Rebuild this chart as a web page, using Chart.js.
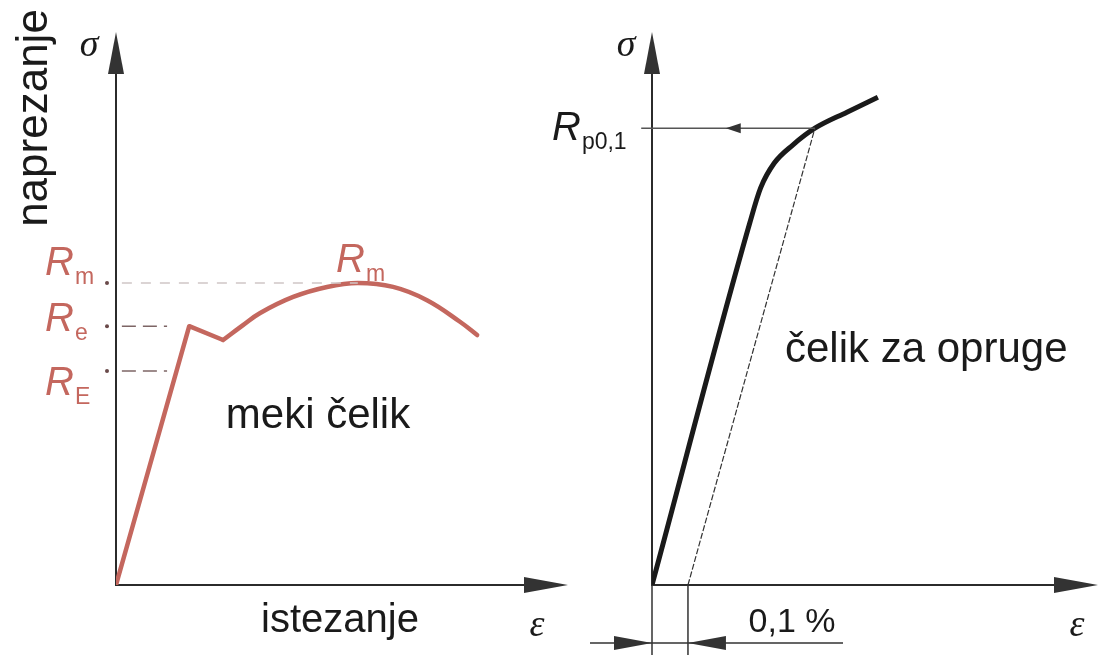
<!DOCTYPE html>
<html>
<head>
<meta charset="utf-8">
<script src="https://cdn.jsdelivr.net/npm/chart.js@4.4.0/dist/chart.umd.min.js"></script>
<style>
  html, body { margin: 0; padding: 0; background: #fff; }
  #wrap { position: relative; width: 1098px; height: 655px; overflow: hidden; }
  #lijevi { position: absolute; left: 0; top: 0; }
  #desni { position: absolute; left: 540px; top: 0; }
</style>
</head>
<body>
<div id="wrap">
  <canvas id="lijevi" width="580" height="655"></canvas>
  <canvas id="desni" width="558" height="655"></canvas>
</div>
<script>
// meki čelik - istezanje (relativno) i naprezanje (relativno)
const mekiStrain = [0, 16.2, 23.7, 28.1, 31.9, 39.2, 46.7, 53.5, 61.3, 68.8, 76.1, 79.9];
const mekiStress = [0, 46.8, 44.3, 47.0, 49.2, 52.1, 53.9, 54.6, 53.9, 51.5, 47.6, 45.2];
// granice: R_m, R_e, R_E
const granicaOznake = ['m', 'e', 'E'];
const granicaVrijednosti = [54.6, 46.8, 38.7];

// čelik za opruge - istezanje u %
const opružniStrain = [0, 0.272, 0.302, 0.340, 0.392, 0.453, 0.542, 0.628];
const opružniStress = [0, 65.5, 71.8, 76.3, 79.6, 82.6, 85.5, 88.2];
const rp01 = 82.6;
const rpStrain = 0.453;
const pomak = 0.1;

const crvena = '#c4675e';
const sans = '"Liberation Sans", Arial, sans-serif';
const serif = '"Liberation Serif", "Times New Roman", serif';

const tocke = (xs, ys) => xs.map((x, i) => ({ x: x, y: ys[i] }));

function strelica(ctx, x, y, smjer, duz, pola) {
    ctx.beginPath();
    ctx.moveTo(x, y);
    if (smjer === 'gore') { ctx.lineTo(x - pola, y + duz); ctx.lineTo(x + pola, y + duz); }
    else if (smjer === 'desno') { ctx.lineTo(x - duz, y - pola); ctx.lineTo(x - duz, y + pola); }
    else { ctx.lineTo(x + duz, y - pola); ctx.lineTo(x + duz, y + pola); }
    ctx.closePath();
    ctx.fill();
}

function oznakaR(ctx, x, y, sub, boja) {
    ctx.fillStyle = boja;
    ctx.textAlign = 'left';
    ctx.textBaseline = 'alphabetic';
    ctx.font = 'italic 40px ' + sans;
    ctx.fillText('R', x, y);
    const w = ctx.measureText('R').width;
    ctx.font = '23px ' + sans;
    ctx.fillText(sub, x + w + 1, y + 9);
}

// Osi sa strelicama
const osiPlugin = {
    id: 'osi',
    beforeDatasetsDraw(chart) {
        const { ctx, chartArea: a, scales: { x, y } } = chart;
        const x0 = x.getPixelForValue(0), y0 = y.getPixelForValue(0);
        ctx.save();
        ctx.strokeStyle = '#2b2b2b';
        ctx.fillStyle = '#333';
        ctx.lineWidth = 2;
        ctx.beginPath(); ctx.moveTo(x0, y0 + 1); ctx.lineTo(x0, a.top + 10); ctx.stroke();
        ctx.beginPath(); ctx.moveTo(x0 - 1, y0); ctx.lineTo(a.right - 10, y0); ctx.stroke();
        strelica(ctx, x0, a.top, 'gore', 42, 8);
        strelica(ctx, a.right, y0, 'desno', 44, 8);
        ctx.restore();
    }
};

const lijeviTekst = {
    id: 'lijeviTekst',
    afterDraw(chart) {
        const { ctx, scales: { x, y } } = chart;
        const x0 = x.getPixelForValue(0);
        ctx.save();
        const pomaci = [-8, 5, 24];
        granicaVrijednosti.forEach((v, i) => {
            const py = y.getPixelForValue(v);
            ctx.fillStyle = '#6a4a4a';
            ctx.beginPath(); ctx.arc(x0 - 9, py, 2, 0, Math.PI * 2); ctx.fill();
            oznakaR(ctx, 45, py + pomaci[i], granicaOznake[i], crvena);
        });
        oznakaR(ctx, 336, y.getPixelForValue(granicaVrijednosti[0]) - 11, 'm', crvena);

        ctx.fillStyle = '#1a1a1a';
        ctx.textAlign = 'center';
        ctx.font = '42px ' + sans;
        ctx.fillText('meki čelik', 318, 428);
        ctx.font = '40px ' + sans;
        ctx.fillText('istezanje', 340, 632);
        ctx.font = 'italic 38px ' + serif;
        ctx.fillText('σ', 89, 56);
        ctx.fillText('ε', 537, 636);

        ctx.translate(47, 118);
        ctx.rotate(-Math.PI / 2);
        ctx.font = '44px ' + sans;
        ctx.fillText('naprezanje', 0, 0);
        ctx.restore();
    }
};

const desniTekst = {
    id: 'desniTekst',
    afterDraw(chart) {
        const { ctx, scales: { x, y } } = chart;
        const x0 = x.getPixelForValue(0), y0 = y.getPixelForValue(0);
        const x1 = x.getPixelForValue(pomak);
        ctx.save();
        ctx.fillStyle = '#333';
        // strelica na liniji Rp0,1
        strelica(ctx, x.getPixelForValue(0.205), y.getPixelForValue(rp01), 'lijevo', 15, 5);

        // kotiranje 0,1 %
        ctx.strokeStyle = '#333';
        ctx.lineWidth = 1.5;
        ctx.beginPath();
        ctx.moveTo(x0, y0); ctx.lineTo(x0, 655);
        ctx.moveTo(x1, y0); ctx.lineTo(x1, 655);
        ctx.moveTo(x0 - 62, 643); ctx.lineTo(x0 + 191, 643);
        ctx.stroke();
        strelica(ctx, x0, 643, 'desno', 38, 7);
        strelica(ctx, x1, 643, 'lijevo', 38, 7);

        // tekst u koordinatama cijele slike
        ctx.translate(-540, 0);
        oznakaR(ctx, 552, y.getPixelForValue(rp01) + 12, 'p0,1', '#1a1a1a');

        ctx.fillStyle = '#1a1a1a';
        ctx.textAlign = 'left';
        ctx.font = '42px ' + sans;
        ctx.fillText('čelik za opruge', 785, 362);
        ctx.textAlign = 'center';
        ctx.font = '34px ' + sans;
        ctx.fillText('0,1 %', 792, 632);
        ctx.font = 'italic 38px ' + serif;
        ctx.fillText('σ', 626, 56);
        ctx.fillText('ε', 1077, 636);
        ctx.restore();
    }
};

const zajednicko = (xMax, padLeft, padRight) => ({
    responsive: false,
    animation: false,
    devicePixelRatio: 1,
    events: [],
    layout: { padding: { left: padLeft, right: padRight, top: 32, bottom: 70 } },
    plugins: { legend: { display: false }, tooltip: { enabled: false } },
    elements: { point: { radius: 0 } },
    scales: {
        x: { type: 'linear', min: 0, max: xMax, display: false },
        y: { type: 'linear', min: 0, max: 100, display: false }
    }
});

const vrh = mekiStress.indexOf(Math.max(...mekiStress));

new Chart(document.getElementById('lijevi').getContext('2d'), {
    type: 'line',
    data: {
        datasets: [
            {
                data: [{ x: 1.3, y: granicaVrijednosti[0] }, { x: mekiStrain[vrh], y: granicaVrijednosti[0] }],
                borderColor: '#cfc6c6', borderWidth: 1.5, borderDash: [10, 9]
            },
            {
                data: [{ x: 1.3, y: granicaVrijednosti[1] }, { x: 11.3, y: granicaVrijednosti[1] }],
                borderColor: '#7d6565', borderWidth: 1.6, borderDash: [14, 7]
            },
            {
                data: [{ x: 1.3, y: granicaVrijednosti[2] }, { x: 11.3, y: granicaVrijednosti[2] }],
                borderColor: '#7d6565', borderWidth: 1.6, borderDash: [14, 7]
            },
            {
                data: tocke(mekiStrain.slice(0, 3), mekiStress.slice(0, 3)),
                borderColor: crvena, borderWidth: 4.5, tension: 0, borderJoinStyle: 'round'
            },
            {
                data: tocke(mekiStrain.slice(2), mekiStress.slice(2)),
                borderColor: crvena, borderWidth: 4.5, tension: 0.4, borderCapStyle: 'round'
            },
            {
                data: [{ x: mekiStrain[vrh], y: mekiStress[vrh] }],
                showLine: false, pointRadius: 2.5, pointBackgroundColor: '#fff', pointBorderWidth: 0
            }
        ]
    },
    options: zajednicko(100, 116, 12),
    plugins: [osiPlugin, lijeviTekst]
});

new Chart(document.getElementById('desni').getContext('2d'), {
    type: 'line',
    data: {
        datasets: [
            {
                data: [{ x: -0.03, y: rp01 }, { x: rpStrain, y: rp01 }],
                borderColor: '#555', borderWidth: 1.5, clip: false
            },
            {
                data: [{ x: pomak, y: 0 }, { x: rpStrain, y: rp01 }],
                borderColor: '#333', borderWidth: 1.2, borderDash: [6, 2]
            },
            {
                data: tocke(opružniStrain, opružniStress),
                borderColor: '#1a1a1a', borderWidth: 5, cubicInterpolationMode: 'monotone'
            }
        ]
    },
    options: zajednicko(1.24, 112, 0),
    plugins: [osiPlugin, desniTekst]
});
</script>
</body>
</html>
